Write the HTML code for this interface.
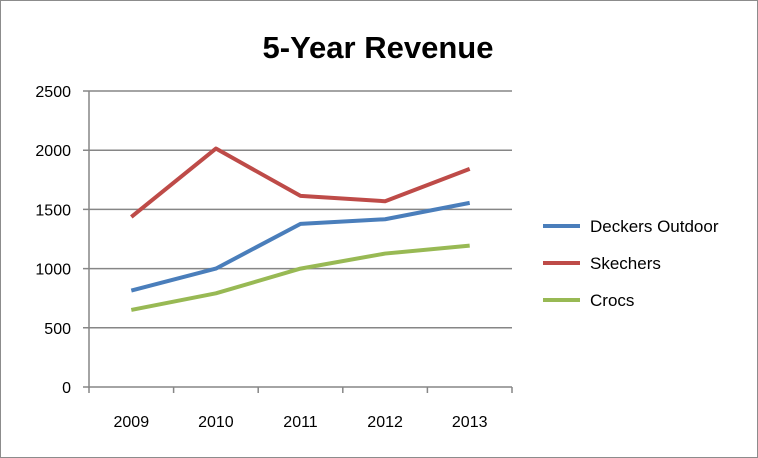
<!DOCTYPE html>
<html><head><meta charset="utf-8"><style>
html,body{margin:0;padding:0;background:#fff;}
svg{display:block;font-family:"Liberation Sans",Calibri,sans-serif;}
</style></head><body>
<svg width="758" height="458">
<rect x="0.5" y="0.5" width="757" height="457" fill="#fff" stroke="#8c8c8c"/>
<text x="378" y="58" text-anchor="middle" font-size="31" font-weight="bold">5-Year Revenue</text>
<g id="grid"></g><g id="axes"></g><g id="series"></g><g id="legend"></g>
</svg>
<script>
const categories=["2009","2010","2011","2012","2013"];
const yTicks=[0,500,1000,1500,2000,2500];
const seriesNames=["Deckers Outdoor","Skechers","Crocs"];
const deckers=[814,1000,1378,1417,1555];
const skechers=[1436,2014,1614,1569,1842];
const crocs=[651,791,1000,1127,1194];
const colors=["#4a7ebb","#be4b48","#98b954"];
const NS="http://www.w3.org/2000/svg";
const L=89,R=512,T=91,B=387,yMax=2500;
const cw=(R-L)/categories.length;
const x=i=>L+cw*(i+0.5);
const y=v=>B-(v/yMax)*(B-T);
function mk(t,a,p){const e=document.createElementNS(NS,t);for(const k in a)e.setAttribute(k,a[k]);p.appendChild(e);return e;}
const grid=document.getElementById('grid'),axes=document.getElementById('axes'),ser=document.getElementById('series'),leg=document.getElementById('legend');
yTicks.forEach(v=>{
 const l=mk('line',{x1:L-6,x2:R,y1:y(v),y2:y(v),stroke:'#868686','stroke-width':1.5},grid);
 
 
 const t=mk('text',{x:L-18,y:y(v)+6,'text-anchor':'end','font-size':16},axes);t.textContent=v;
 
 
});
const ax=mk('line',{x1:L,x2:L,y1:T,y2:B+1,stroke:'#868686','stroke-width':1.5},axes);


for(let i=0;i<=categories.length;i++){
 const tk=mk('line',{x1:L+cw*i,x2:L+cw*i,y1:B,y2:B+6,stroke:'#868686','stroke-width':1.5},axes);
 
 
}
categories.forEach((c,i)=>{
 const t=mk('text',{x:x(i),y:427,'text-anchor':'middle','font-size':16},axes);t.textContent=c;
 
 
});
[deckers,skechers,crocs].forEach((d,s)=>{
 const p=mk('polyline',{points:d.map((v,i)=>x(i)+','+y(v)).join(' '),fill:'none',stroke:colors[s],'stroke-width':4,'stroke-linejoin':'round'},ser);
 
 
 const ly=226+s*37;
 const ll=mk('line',{x1:543,x2:580,y1:ly,y2:ly,stroke:colors[s],'stroke-width':4},leg);
 
 
 const lt=mk('text',{x:590,y:ly+6,'font-size':17},leg);lt.textContent=seriesNames[s];
 
 
});
</script>
</body></html>
